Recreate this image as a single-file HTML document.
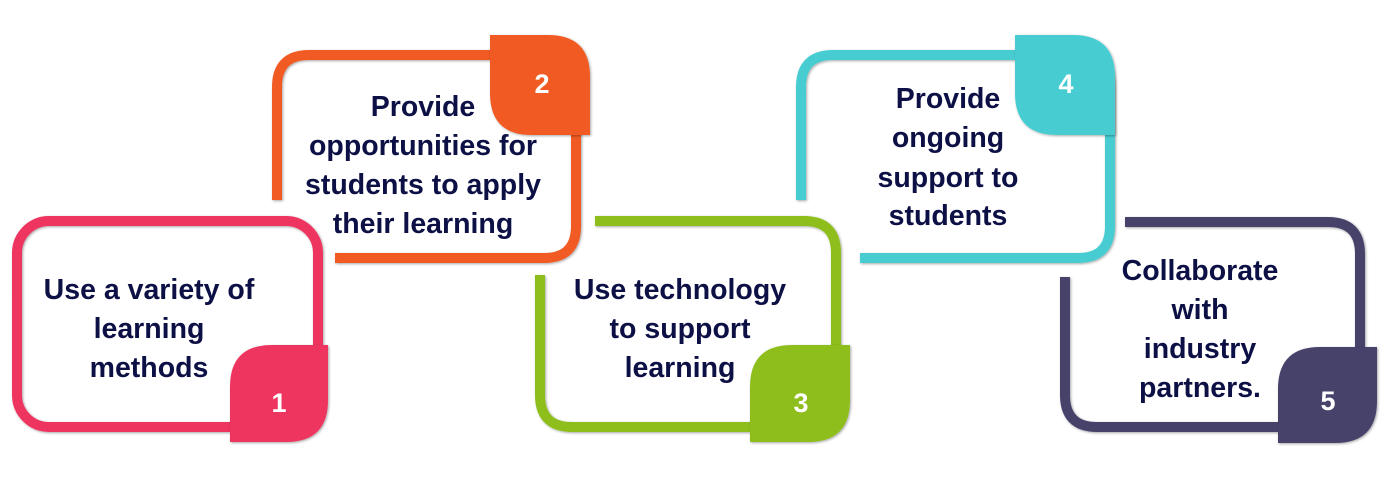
<!DOCTYPE html>
<html><head><style>
body{margin:0;background:#fff;}
svg text{font-family:"Liberation Sans",sans-serif;font-weight:bold;}
</style></head><body>
<svg width="1400" height="478" viewBox="0 0 1400 478" xmlns="http://www.w3.org/2000/svg">
<defs><filter id="s" x="-10%" y="-10%" width="120%" height="120%"><feDropShadow dx="1" dy="1" stdDeviation="1.2" flood-color="#000" flood-opacity="0.35"/></filter></defs>
<g fill="none" stroke-width="10" filter="url(#s)">
<rect x="17" y="221" width="301" height="206" rx="32" stroke="#EE3560"/>
<path d="M277,200 L277,87 Q277,55 309,55 L544,55 Q576,55 576,87 L576,226 Q576,258 544,258 L335,258" stroke="#F15A24"/>
<path d="M595,221 L804,221 Q836,221 836,253 L836,395 Q836,427 804,427 L572,427 Q540,427 540,395 L540,275" stroke="#8DBE1A"/>
<path d="M801,200 L801,87 Q801,55 833,55 L1078,55 Q1110,55 1110,87 L1110,226 Q1110,258 1078,258 L860,258" stroke="#47CDD1"/>
<path d="M1125,222 L1328,222 Q1360,222 1360,254 L1360,395 Q1360,427 1328,427 L1097,427 Q1065,427 1065,395 L1065,277" stroke="#46426B"/>
</g>
<g filter="url(#s)">
<path d="M230,442 L230,387 Q230,345 272,345 L328,345 L328,400 Q328,442 286,442 Z" fill="#EE3560"/>
<path d="M490,35 L548,35 Q590,35 590,77 L590,135 L532,135 Q490,135 490,93 Z" fill="#F15A24"/>
<path d="M750,442 L750,387 Q750,345 792,345 L850,345 L850,400 Q850,442 808,442 Z" fill="#8DBE1A"/>
<path d="M1015,35 L1073,35 Q1115,35 1115,77 L1115,135 L1057,135 Q1015,135 1015,93 Z" fill="#47CDD1"/>
<path d="M1278,443 L1278,389 Q1278,347 1320,347 L1377,347 L1377,401 Q1377,443 1335,443 Z" fill="#46426B"/>
</g>
<g fill="#fff" font-size="27" text-anchor="middle">
<text x="279" y="412">1</text>
<text x="542" y="93">2</text>
<text x="801" y="412">3</text>
<text x="1066" y="93">4</text>
<text x="1328" y="410">5</text>
</g>
<g fill="#0D1045" font-size="28.5" text-anchor="middle">
<text x="149" y="299">Use a variety of</text>
<text x="149" y="338">learning</text>
<text x="149" y="377">methods</text>
<text x="423" y="116">Provide</text>
<text x="423" y="155">opportunities for</text>
<text x="423" y="194">students to apply</text>
<text x="423" y="233">their learning</text>
<text x="680" y="299">Use technology</text>
<text x="680" y="338">to support</text>
<text x="680" y="377">learning</text>
<text x="948" y="108">Provide</text>
<text x="948" y="147">ongoing</text>
<text x="948" y="187">support to</text>
<text x="948" y="225">students</text>
<text x="1200" y="280">Collaborate</text>
<text x="1200" y="319">with</text>
<text x="1200" y="358">industry</text>
<text x="1200" y="397">partners.</text>
</g>
</svg>
</body></html>
